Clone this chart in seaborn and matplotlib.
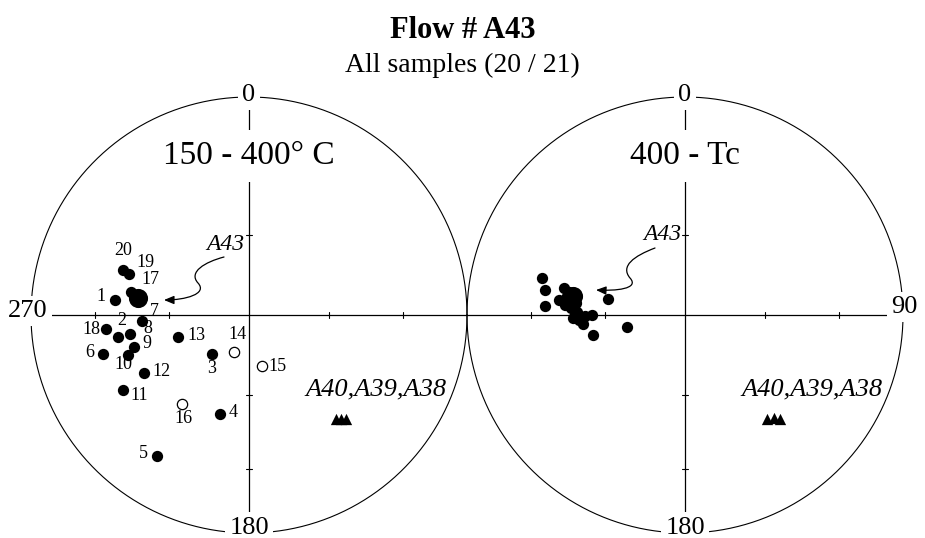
import numpy as np
import pandas as pd
import matplotlib
matplotlib.use("Agg")
import matplotlib.pyplot as plt
import seaborn as sns
from matplotlib.path import Path
from matplotlib.patches import FancyArrowPatch

# 150 - 400 C step, samples 1..20 (negative inclination = upper hemisphere, open symbol)
low_ids = list(range(1, 21))
low_dec = [276.4, 260.3, 223.5, 196.3, 213.1, 255.0, 267.0, 260.9, 254.3, 251.7,
           239.3, 240.9, 252.5, 202.2, 165.7, 217.0, 281.2, 264.4, 288.9, 289.7]
low_inc = [38.1, 39.1, 69.8, 50.9, 24.0, 31.2, 49.2, 44.0, 44.4, 41.3,
           33.0, 44.3, 62.2, -75.2, -70.3, -47.5, 44.1, 34.3, 41.4, 38.7]
low_mean = (278.7, 47.3)

# 400 - Tc step
high_dec = [284.5, 280.2, 273.7, 282.6, 276.8, 274.8, 281.3, 278.8, 273.5, 271.6,
            268.4, 267.3, 265.0, 269.4, 270.0, 281.7, 257.7, 258.3, 279.1, 276.3]
high_inc = [32.7, 35.1, 35.9, 42.6, 41.4, 44.0, 44.9, 47.6, 46.5, 49.0,
            47.4, 49.7, 51.2, 52.1, 54.9, 60.4, 54.4, 67.8, 44.4, 48.3]
high_mean = (279.6, 46.8)

# neighbouring flows
ref_names = ["A40", "A39", "A38"]
ref_low_dec = [140.1, 138.5, 137.0]
ref_low_inc = [37.8, 36.4, 35.1]
ref_high_dec = [141.7, 139.2, 137.6]
ref_high_inc = [39.2, 37.6, 35.6]

# label offsets for the sample numbers (pixels, right / up)
label_offsets = [(-14, 3), (3, 17), (0, -14), (13, 2), (-14, 2), (-13, 2), (13, 9), (18, 6),
                 (13, 4), (-5, -10), (17, -5), (17, 2), (18, 2), (3, 17), (15, 0), (2, -14),
                 (19, 12), (-14, 0), (16, 11), (0, 20)]


def schmidt(dec, inc, cx=0.0):
    # equal-area (Schmidt) projection, unit radius
    d = np.radians(np.asarray(dec, float))
    i = np.abs(np.asarray(inc, float))
    r = np.sqrt(2) * np.sin(np.radians(90 - i) / 2)
    return cx + r * np.sin(d), r * np.cos(d)


def px(x, y):
    # pixel position of the reference layout -> data units
    return (x - 249) / 218, (315 - y) / 218


sns.set_style("white")
plt.rcParams["font.family"] = ["Liberation Serif", "DejaVu Serif"]
plt.rcParams["text.color"] = "black"

fig = plt.figure(figsize=(9.25, 5.38), dpi=100)
ax = fig.add_axes([0, 0, 1, 1])
ax.set_xlim(-249 / 218, 676 / 218)
ax.set_ylim(-223 / 218, 315 / 218)
ax.axis("off")

centers = [0.0, 2.0]
t = np.linspace(0, 2 * np.pi, 721)
for cx in centers:
    ax.plot(cx + np.cos(t), np.sin(t), color="black", lw=0.8, zorder=1)
    ax.plot([cx, cx], [-1, 1], color="black", lw=0.9, zorder=1)
    # ticks at 60 and 30 degrees inclination
    for rr in [np.sqrt(2) * np.sin(np.radians(15)), np.sqrt(2) * np.sin(np.radians(30))]:
        for s in [-1, 1]:
            ax.plot([cx - 0.014, cx + 0.014], [s * rr, s * rr], color="black", lw=0.8, zorder=1)
            ax.plot([cx + s * rr, cx + s * rr], [-0.014, 0.014], color="black", lw=0.8, zorder=1)
ax.plot([-1, 3], [0, 0], color="black", lw=0.9, zorder=1)

lab = dict(ha="center", va="center", fontsize=19, zorder=3,
           bbox=dict(facecolor="white", edgecolor="none", pad=3))
for cx in centers:
    ax.text(cx, 1.01, "0", **lab)
    ax.text(cx, -0.975, "180", **lab)
ax.text(*px(28, 311), "270", **lab)
ax.text(*px(904, 307), "90", **lab)

big = dict(ha="center", va="center", fontsize=24, zorder=3,
           bbox=dict(facecolor="white", edgecolor="none", pad=8))
ax.text(0, 0.73, "150 - 400° C", **big)
ax.text(2, 0.73, "400 - Tc", **big)

fig.text(0.5, 0.944, "Flow # A43", ha="center", va="center", fontsize=22, fontweight="bold")
fig.text(0.5, 0.878, "All samples (20 / 21)", ha="center", va="center", fontsize=20)

# data frames for seaborn
lx, ly = schmidt(low_dec, low_inc, 0.0)
low = pd.DataFrame({"id": low_ids, "x": lx, "y": ly, "down": np.array(low_inc) > 0})
hx, hy = schmidt(high_dec, high_inc, 2.0)
high = pd.DataFrame({"x": hx, "y": hy})
rlx, rly = schmidt(ref_low_dec, ref_low_inc, 0.0)
rhx, rhy = schmidt(ref_high_dec, ref_high_inc, 2.0)
refs = pd.DataFrame({"name": ref_names * 2, "x": np.r_[rlx, rhx], "y": np.r_[rly, rhy]})

sns.scatterplot(data=low[low.down], x="x", y="y", color="black", s=66, linewidth=0,
                ax=ax, legend=False, zorder=4)
sns.scatterplot(data=low[~low.down], x="x", y="y", color="white", edgecolor="black", s=55,
                linewidth=0.9, ax=ax, legend=False, zorder=4)
sns.scatterplot(data=high, x="x", y="y", color="black", s=66, linewidth=0,
                ax=ax, legend=False, zorder=4)
sns.scatterplot(data=refs, x="x", y="y", color="black", marker="^", s=66, linewidth=0,
                ax=ax, legend=False, zorder=4)

mx, my = schmidt([low_mean[0], high_mean[0]], [low_mean[1], high_mean[1]], np.array(centers))
ax.scatter(mx, my, s=190, color="black", linewidths=0, zorder=5)

for (_, row), (dx, dy) in zip(low.iterrows(), label_offsets):
    ax.annotate(str(row.id), (row.x, row.y), xytext=(dx, dy), textcoords="offset pixels",
                ha="center", va="center", fontsize=13, zorder=6)

# A43 labels with curly arrows
for tx, ty in [(225, 244), (662, 234)]:
    ax.text(*px(tx, ty), "A43", style="italic", fontsize=17, ha="center", va="center", zorder=6)
arrows = [
    [(224, 257), (205, 262), (188, 272), (198, 283), (208, 294), (185, 300), (164, 300)],
    [(655, 248), (634, 256), (620, 266), (630, 278), (640, 289), (615, 291), (596, 290)],
]
for pts in arrows:
    verts = [px(*p) for p in pts]
    codes = [Path.MOVETO] + [Path.CURVE4] * 6
    ax.add_patch(FancyArrowPatch(path=Path(verts, codes),
                                 arrowstyle="-|>,head_length=6,head_width=2.5",
                                 color="black", lw=0.9, zorder=6))

for tx in [376, 812]:
    ax.text(*px(tx, 389), ",".join(ref_names), style="italic", fontsize=19,
            ha="center", va="center", zorder=6)

fig.savefig("out.png", dpi=100)
